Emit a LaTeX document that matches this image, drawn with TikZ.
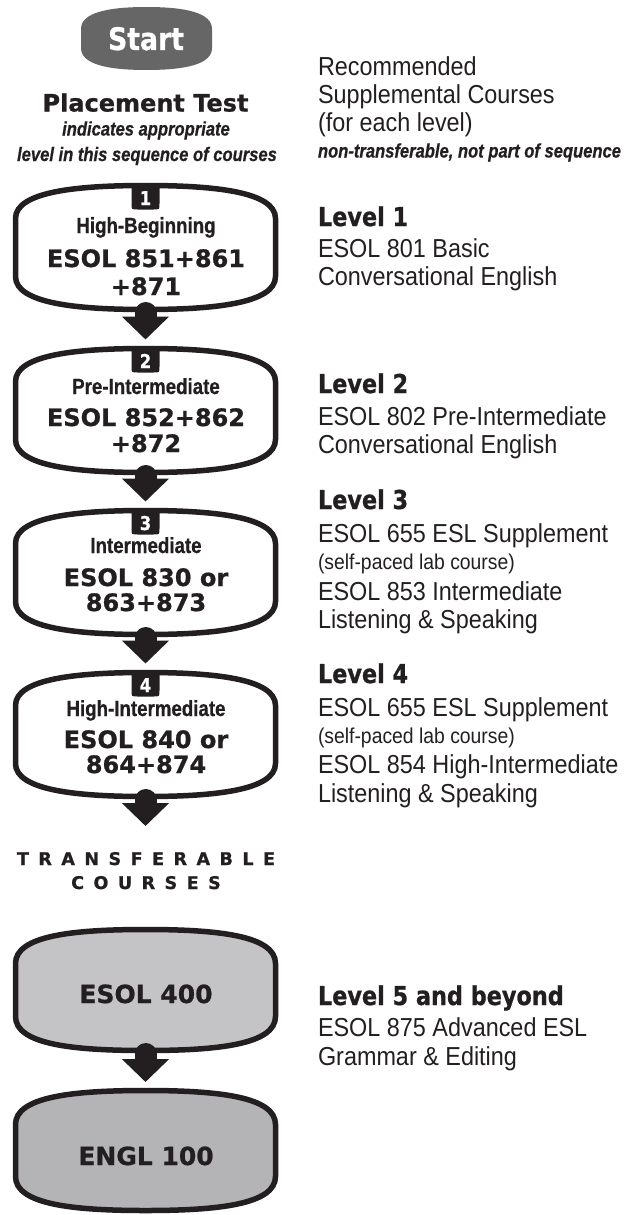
\documentclass[tikz,border=0pt]{standalone}
\usepackage{fontspec}
\setmainfont{Liberation Sans}
\newfontfamily\rgfont[FakeStretch=0.9]{Liberation Sans}
\newfontfamily\cdfont[FakeStretch=0.85,FakeBold=0.6]{Liberation Sans}
\newfontfamily\hvfont[FakeBold=0.8]{DejaVu Sans}
\newfontfamily\hvnfont[FakeStretch=0.86,FakeBold=0.8]{DejaVu Sans}
\usetikzlibrary{calc,arrows.meta}
\definecolor{ink}{HTML}{231F20}
\definecolor{startgray}{HTML}{666666}
\definecolor{lightbox}{HTML}{C4C4C6}
\definecolor{darkbox}{HTML}{B4B4B6}
\newcommand\trk{\kern9.5pt}
\newcommand\barrelpath[3]{%
 ($(#1.north west)+(0,#2)$) .. controls ($(#1.north west)+(0,6)$) and ($(#1.north)+(-#3,0)$) .. (#1.north)
 .. controls ($(#1.north)+(#3,0)$) and ($(#1.north east)+(0,6)$) .. ($(#1.north east)+(0,#2)$)
 -- ($(#1.south east)+(0,-#2)$)
 .. controls ($(#1.south east)+(0,-6)$) and ($(#1.south)+(#3,0)$) .. (#1.south)
 .. controls ($(#1.south)+(-#3,0)$) and ($(#1.south west)+(0,-6)$) .. ($(#1.south west)+(0,-#2)$) -- cycle}
\newcommand\tabpath[1]{%
 ($(#1.north)+(-14,-2.5)$) -- ($(#1.north)+(-14,18)$) .. controls ($(#1.north)+(-14,24)$) .. ($(#1.north)+(-8,24)$)
 -- ($(#1.north)+(8,24)$) .. controls ($(#1.north)+(14,24)$) .. ($(#1.north)+(14,18)$)
 -- ($(#1.north)+(14,-2.5)$) -- cycle}
\tikzset{
  txt/.style={inner sep=0pt, outer sep=0pt, text=ink},
  rgtext/.style={txt, anchor=base west, font=\rgfont\fontsize{26}{30}\selectfont},
  smtext/.style={txt, anchor=base west, font=\rgfont\fontsize{21.5}{26}\selectfont},
  lvlhead/.style={txt, anchor=base west, font=\hvnfont\bfseries\fontsize{26}{30}\selectfont},
  noteit/.style={txt, font=\cdfont\bfseries\itshape\fontsize{19.5}{22}\selectfont},
  boxlabel/.style={txt, anchor=base, font=\cdfont\bfseries\fontsize{22}{26}\selectfont},
  boxcode/.style={txt, anchor=base, font=\hvfont\bfseries\fontsize{24}{28}\selectfont},
  graycode/.style={txt, anchor=base, font=\hvfont\bfseries\fontsize{25}{28}\selectfont},
  numlabel/.style={inner sep=0pt, anchor=base, text=white, font=\hvnfont\bfseries\fontsize{19}{22}\selectfont},
  boxframe/.style={rectangle, draw=none, inner sep=0pt, outer sep=0pt, minimum width=260pt},
  flow/.style={draw=ink, line width=22pt, line cap=round, -{Triangle[width=46pt,length=23pt]}},
  boxborder/.style={draw=ink, line width=5.5pt, line join=round},
}
\begin{document}
\begin{tikzpicture}[x=1pt,y=-1pt]
\useasboundingbox (0,0) rectangle (642,1215);
\fill[white] (0,0) rectangle (642,1215);

% Start button
\node[boxframe, minimum width=131pt, minimum height=63pt] (start) at (146.5,38.5) {};
\fill[startgray] \barrelpath{start}{22}{40};
\node[inner sep=0pt, anchor=base, text=white, font=\hvnfont\bfseries\fontsize{31}{34}\selectfont] (starttxt) at (146,50) {Start};

% Placement test
\node[txt, anchor=base, font=\hvfont\bfseries\fontsize{24}{28}\selectfont] (ptest) at (145.5,111.5) {Placement Test};
\node[noteit, anchor=base] (ind1) at (146,135.5) {indicates appropriate};
\node[noteit, anchor=base] (ind2) at (147,161) {level in this sequence of courses};

% Right header
\node[rgtext] (rec1) at (318,75) {Recommended};
\node[rgtext] (rec2) at (318,103.5) {Supplemental Courses};
\node[rgtext] (rec3) at (318,131) {(for each level)};
\node[noteit, anchor=base west] (rec4) at (318,157.5) {non-transferable, not part of sequence};

% Level boxes
\node[boxframe, minimum height=124pt] (b1) at (145.5,247.5) {};
\node[boxframe, minimum height=124pt] (b2) at (145.5,410.5) {};
\node[boxframe, minimum height=124pt] (b3) at (145.5,572.5) {};
\node[boxframe, minimum height=124pt] (b4) at (145.5,734.5) {};
\foreach \b in {b1,b2,b3,b4}{
  \draw[boxborder, fill=white] \barrelpath{\b}{33}{68};
  \fill[ink] \tabpath{\b};
}
\node[numlabel] (n1) at ($(b1.north)+(0,19.5)$) {1};
\node[numlabel] (n2) at ($(b2.north)+(0,19.5)$) {2};
\node[numlabel] (n3) at ($(b3.north)+(0,19.5)$) {3};
\node[numlabel] (n4) at ($(b4.north)+(0,19.5)$) {4};

\node[boxlabel] (b1l) at (146,233) {High-Beginning};
\node[boxcode] (b1a) at (146,267) {ESOL 851+861};
\node[boxcode] (b1b) at (146,295) {+871};

\node[boxlabel] (b2l) at (146,394) {Pre-Intermediate};
\node[boxcode] (b2a) at (146,426) {ESOL 852+862};
\node[boxcode] (b2b) at (146,452) {+872};

\node[boxlabel] (b3l) at (146,553) {Intermediate};
\node[boxcode] (b3a) at (146,586) {ESOL 830 or};
\node[boxcode] (b3b) at (146,611) {863+873};

\node[boxlabel] (b4l) at (146,716) {High-Intermediate};
\node[boxcode] (b4a) at (146,748) {ESOL 840 or};
\node[boxcode] (b4b) at (146,773) {864+874};

% Transferable heading
\node[txt, anchor=base, font=\hvfont\bfseries\fontsize{17.5}{20}\selectfont] (trans1) at (146,865)
  {T\trk R\trk A\trk N\trk S\trk F\trk E\trk R\trk A\trk B\trk L\trk E};
\node[txt, anchor=base, font=\hvfont\bfseries\fontsize{17.5}{20}\selectfont] (trans2) at (146,889)
  {C\trk O\trk U\trk R\trk S\trk E\trk S};

% Gray boxes
\node[boxframe, minimum height=121pt] (g1) at (145.5,990) {};
\node[boxframe, minimum height=120pt] (g2) at (145.5,1150.5) {};
\draw[boxborder, fill=lightbox] \barrelpath{g1}{34}{72};
\draw[boxborder, fill=darkbox] \barrelpath{g2}{34}{72};
\node[graycode] (g1t) at (146,1003) {ESOL 400};
\node[graycode] (g2t) at (146,1165) {ENGL 100};

% Arrows
\coordinate (end4) at (145.5,826);
\draw[flow] ([yshift=-3.5pt]b1.south) -- ([yshift=9pt]b2.north);
\draw[flow] ([yshift=-3.5pt]b2.south) -- ([yshift=9pt]b3.north);
\draw[flow] ([yshift=-3.5pt]b3.south) -- ([yshift=9pt]b4.north);
\draw[flow] ([yshift=-3.5pt]b4.south) -- (end4);
\draw[flow] ([yshift=-3.5pt]g1.south) -- ([yshift=8.5pt]g2.north);

% Right column levels
\node[lvlhead] (l1) at (318,226) {Level 1};
\node[rgtext] (l1a) at (318,257) {ESOL 801 Basic};
\node[rgtext] (l1b) at (318,285.5) {Conversational English};

\node[lvlhead] (l2) at (318,393) {Level 2};
\node[rgtext] (l2a) at (318,425) {ESOL 802 Pre-Intermediate};
\node[rgtext] (l2b) at (318,453) {Conversational English};

\node[lvlhead] (l3) at (318,509) {Level 3};
\node[rgtext] (l3a) at (318,542) {ESOL 655 ESL Supplement};
\node[smtext] (l3b) at (318,569) {(self-paced lab course)};
\node[rgtext] (l3c) at (318,600) {ESOL 853 Intermediate};
\node[rgtext] (l3d) at (318,628) {Listening \& Speaking};

\node[lvlhead] (l4) at (318,683) {Level 4};
\node[rgtext] (l4a) at (318,716.5) {ESOL 655 ESL Supplement};
\node[smtext] (l4b) at (318,743) {(self-paced lab course)};
\node[rgtext] (l4c) at (318,773) {ESOL 854 High-Intermediate};
\node[rgtext] (l4d) at (318,802.5) {Listening \& Speaking};

\node[lvlhead] (l5) at (318,1005) {Level 5 and beyond};
\node[rgtext] (l5a) at (318,1036) {ESOL 875 Advanced ESL};
\node[rgtext] (l5b) at (318,1065) {Grammar \& Editing};
\end{tikzpicture}
\end{document}
